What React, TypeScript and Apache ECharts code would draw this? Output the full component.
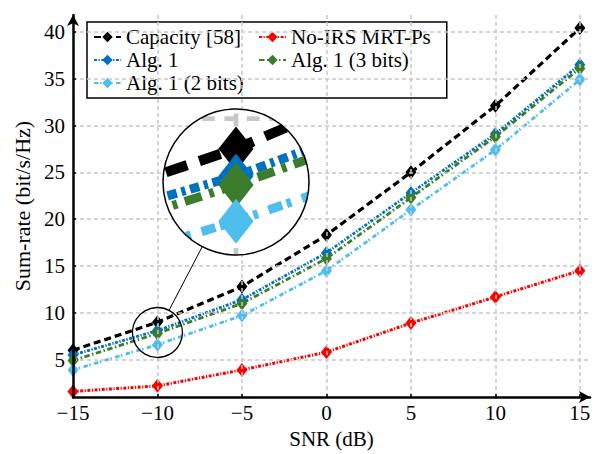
import React, { useEffect, useRef } from 'react';
import * as echarts from 'echarts';

// ---------- data ----------
const snr = [-15, -10, -5, 0, 5, 10, 15];
const capacity = [6.0, 9.0, 12.8, 18.3, 25.0, 32.1, 40.4];
const noIrs = [1.6, 2.2, 3.9, 5.8, 8.9, 11.7, 14.5];
const alg1 = [5.5, 8.1, 11.4, 16.4, 22.8, 29.1, 36.5];
const alg1Bits3 = [4.9, 7.8, 11.0, 15.8, 22.3, 28.8, 36.1];
const alg1Bits2 = [3.9, 6.6, 9.7, 14.5, 21.0, 27.4, 34.9];
const seriesNames = ['Capacity [58]', 'No-IRS MRT-Ps', 'Alg. 1', 'Alg. 1 (3 bits)', 'Alg. 1 (2 bits)'];
const seriesValues = [capacity, noIrs, alg1, alg1Bits3, alg1Bits2];
const xName = 'SNR (dB)';
const yName = 'Sum-rate (bit/s/Hz)';
const zoomFocus = [-10, 7.9];
const insetGridX = [-10];
const insetGridY = [10];

// ---------- styles / layout ----------
const FONT = "'Liberation Serif', 'Times New Roman', Times, serif";
const TXT = { fontFamily: FONT, fontSize: 21, color: '#000' };
const styles = [
  { color: '#000000', width: 3.2, dash: [7, 4] },
  { color: '#ff0000', width: 3, dash: [3, 1.5, 1.2, 1.5] },
  { color: '#0072bd', width: 2.8, dash: [3, 1.5, 1.3, 1.5] },
  { color: '#3b7d2c', width: 2.8, dash: [5.5, 2.5, 1.5, 2.5] },
  { color: '#4dbeee', width: 2.8, dash: [4.5, 1.5, 1.5, 3.5] },
];
const SYM_W = 11;
const SYM_H = 14;
const X_MIN = -15, X_MAX = 15.6, Y_MIN = 1, Y_MAX = 41.8;
const G = { left: 73, right: 5, top: 15, bottom: 54 };
const W = 595, H = 454;
const PX_X = (W - G.left - G.right) / (X_MAX - X_MIN);
const PX_Y = (H - G.top - G.bottom) / (Y_MAX - Y_MIN);
const INSET = { cx: 236, cy: 182, r: 73, zoom: 3.2 };
const SMALL_R = 25;
const halfX = INSET.r / (INSET.zoom * PX_X);
const halfY = INSET.r / (INSET.zoom * PX_Y);

const minus = (v: number) => String(v).replace('-', '\u2212');

function diamond(p: number[], w: number, h: number) {
  return [
    [p[0], p[1] - h / 2],
    [p[0] + w / 2, p[1]],
    [p[0], p[1] + h / 2],
    [p[0] - w / 2, p[1]],
  ];
}

const insetOrder = [0, 2, 3, 4];
const axisLineStyle = { color: '#000', width: 2.5, opacity: 1 };
const gridLine = { show: true, showMinLine: false, showMaxLine: false, lineStyle: { color: '#c8c8c8', width: 1.5, type: [4, 3] } };
const richT = { t: { ...TXT } };
const richName = { t: { ...TXT, fontSize: 22 } };

const option: any = {
  animation: false,
  backgroundColor: '#ffffff',
  textStyle: { fontFamily: FONT },
  grid: [
    { left: G.left, right: G.right, top: G.top, bottom: G.bottom },
    { left: INSET.cx - INSET.r, top: INSET.cy - INSET.r, width: 2 * INSET.r, height: 2 * INSET.r },
  ],
  xAxis: [
    {
      type: 'value', gridIndex: 0, position: 'bottom', min: X_MIN, max: X_MAX, minInterval: 5, maxInterval: 5,
      name: '{t|' + xName + '}', nameLocation: 'middle', nameGap: 29,
      nameTextStyle: { ...TXT, rich: richT },
      axisLine: { show: true, onZero: false, symbol: ['none', 'arrow'], symbolSize: [9, 11], lineStyle: axisLineStyle },
      axisTick: { show: true, inside: true, length: 3, lineStyle: { color: '#000', width: 1.5 } },
      axisLabel: {
        show: true, margin: 5, showMaxLabel: false, ...TXT, rich: richT,
        formatter: (v: number) => (Math.abs(v % 5) < 1e-9 && v <= 15 ? '{t|' + minus(v) + '}' : ''),
      },
      splitLine: gridLine,
      z: 5,
    },
    { type: 'value', gridIndex: 1, min: zoomFocus[0] - halfX, max: zoomFocus[0] + halfX, show: false },
  ],
  yAxis: [
    {
      type: 'value', gridIndex: 0, position: 'left', min: Y_MIN, max: Y_MAX, minInterval: 5, maxInterval: 5,
      name: '{t|' + yName + '}', nameLocation: 'middle', nameGap: 40,
      nameTextStyle: { ...TXT, fontSize: 22, rich: richName },
      axisLine: { show: true, onZero: false, symbol: ['none', 'arrow'], symbolSize: [9, 11], lineStyle: axisLineStyle },
      axisTick: { show: true, inside: true, length: 3, lineStyle: { color: '#000', width: 1.5 } },
      axisLabel: {
        show: true, margin: 8, showMinLabel: false, showMaxLabel: false, ...TXT, rich: richT,
        formatter: (v: number) => (Math.abs(v % 5) < 1e-9 && v >= 5 && v <= 40 ? '{t|' + minus(v) + '}' : ''),
      },
      splitLine: gridLine,
      z: 5,
    },
    { type: 'value', gridIndex: 1, min: zoomFocus[1] - halfY, max: zoomFocus[1] + halfY, show: false },
  ],
  legend: {
    left: 87, top: 22, width: 340, orient: 'horizontal',
    itemWidth: 27, itemHeight: 13, itemGap: 2,
    padding: [4.5, 16, 4.5, 6],
    backgroundColor: '#fff', borderColor: '#000', borderWidth: 1.5, borderRadius: 0,
    selectedMode: false,
    textStyle: { ...TXT, width: 130, lineHeight: 21 },
    data: seriesNames,
  },
  series: [
    ...seriesValues.map((vals, i) => ({
      type: 'line', name: seriesNames[i], xAxisIndex: 0, yAxisIndex: 0,
      data: snr.map((x, j) => [x, vals[j]]),
      symbol: 'diamond', symbolSize: [SYM_W, SYM_H], showSymbol: true, clip: false,
      itemStyle: { color: styles[i].color, borderWidth: 0 },
      lineStyle: { color: styles[i].color, width: styles[i].width, type: styles[i].dash },
      emphasis: { disabled: true },
    })),
    {
      type: 'custom', name: 'zoom-marker', xAxisIndex: 0, yAxisIndex: 0, data: [zoomFocus], z: 9, silent: true, clip: false,
      renderItem: (_params: any, api: any) => {
        const p = api.coord(zoomFocus);
        const dx = INSET.cx - p[0], dy = INSET.cy - p[1];
        const d = Math.hypot(dx, dy);
        const ux = dx / d, uy = dy / d;
        return {
          type: 'group',
          children: [
            { type: 'circle', shape: { cx: p[0], cy: p[1], r: SMALL_R }, style: { fill: 'none', stroke: '#000', lineWidth: 1.3 } },
            {
              type: 'line',
              shape: { x1: p[0] + ux * SMALL_R, y1: p[1] + uy * SMALL_R, x2: INSET.cx - ux * INSET.r, y2: INSET.cy - uy * INSET.r },
              style: { stroke: '#000', lineWidth: 1 },
            },
          ],
        };
      },
    },
    {
      type: 'custom', name: 'inset', xAxisIndex: 1, yAxisIndex: 1, data: [zoomFocus], z: 10, silent: true, clip: false,
      renderItem: (params: any, api: any) => {
        const cs = params.coordSys;
        const cx = cs.x + cs.width / 2, cy = cs.y + cs.height / 2, r = Math.min(cs.width, cs.height) / 2;
        const Z = INSET.zoom;
        const kids: any[] = [{ type: 'circle', shape: { cx, cy, r }, style: { fill: '#fff' } }];
        const gridStyle = { stroke: '#c8c8c8', lineWidth: 1.5 * Z, lineDash: [4 * Z, 3 * Z], fill: 'none' };
        insetGridY.forEach((gv) => {
          const a = api.coord([zoomFocus[0] - 2 * halfX, gv]);
          const b = api.coord([zoomFocus[0] + 2 * halfX, gv]);
          kids.push({ type: 'line', shape: { x1: a[0], y1: a[1], x2: b[0], y2: b[1] }, style: gridStyle });
        });
        insetGridX.forEach((gv) => {
          const a = api.coord([gv, zoomFocus[1] - 2 * halfY]);
          const b = api.coord([gv, zoomFocus[1] + 2 * halfY]);
          kids.push({ type: 'line', shape: { x1: a[0], y1: a[1], x2: b[0], y2: b[1] }, style: gridStyle });
        });
        insetOrder.forEach((si) => {
          const st = styles[si];
          const pts = snr.map((x, j) => api.coord([x, seriesValues[si][j]]));
          kids.push({
            type: 'polyline', shape: { points: pts },
            style: { stroke: st.color, lineWidth: st.width * Z, lineDash: st.dash.map((v) => v * Z), fill: 'none' },
          });
          pts.forEach((p: number[]) => {
            kids.push({ type: 'polygon', shape: { points: diamond(p, SYM_W * Z, SYM_H * Z) }, style: { fill: st.color } });
          });
        });
        return {
          type: 'group',
          children: [
            { type: 'group', clipPath: { type: 'circle', shape: { cx, cy, r } }, children: kids },
            { type: 'circle', shape: { cx, cy, r }, style: { fill: 'none', stroke: '#000', lineWidth: 1.5 } },
          ],
        };
      },
    },
  ],
};

export default function App() {
  const ref = useRef<HTMLDivElement>(null);
  useEffect(() => {
    const chart = echarts.init(ref.current!, null, { renderer: 'svg' });
    chart.setOption(option);
    return () => chart.dispose();
  }, []);
  return <div ref={ref} style={{ position: 'fixed', left: 0, top: 0, width: W, height: H }} />;
}
